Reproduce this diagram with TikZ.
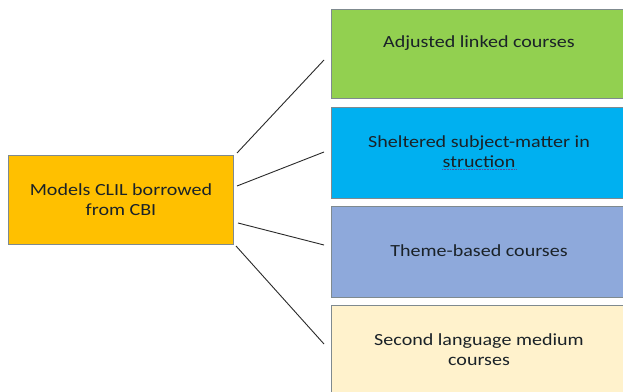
\documentclass[tikz,border=0pt]{standalone}
\usepackage{fontspec}
\setmainfont{Carlito}[FakeStretch=1.18]
\definecolor{cgreen}{HTML}{92D050}
\definecolor{cblue}{HTML}{00B0F0}
\definecolor{ctheme}{HTML}{8EA9DB}
\definecolor{ccream}{HTML}{FFF2CC}
\definecolor{corange}{HTML}{FFC000}
\definecolor{cedge}{HTML}{7F8A8F}
\definecolor{ctext}{HTML}{1A2228}
\definecolor{cline}{HTML}{2A2A2A}
\definecolor{cul}{HTML}{5A4A9A}
\begin{document}
\begin{tikzpicture}[x=1pt,y=1pt,
  box/.style={draw=cedge,line width=0.6pt,rectangle,inner sep=0pt},
  txt/.style={align=center,text=ctext,font=\fontsize{17}{20}\selectfont},
  conn/.style={draw=cline,line width=0.9pt}]
\useasboundingbox (0,0) rectangle (623,391);
\clip (0,0) rectangle (623,391);
\fill[white] (0,0) rectangle (623,391);
% boxes (y flipped: y = 391 - py)
\node[box,fill=corange,minimum width=225pt,minimum height=89pt] (L) at (121,191.5) {};
\node[box,fill=cgreen,minimum width=300pt,minimum height=89pt] (R1) at (481,337.5) {};
\node[box,fill=cblue,minimum width=300pt,minimum height=91pt] (R2) at (481,238.5) {};
\node[box,fill=ctheme,minimum width=300pt,minimum height=91pt] (R3) at (481,139.5) {};
\node[box,fill=ccream,minimum width=300pt,minimum height=92pt] (R4) at (481,40) {};
% texts
\node[txt] (tL) at (121,191.5) {Models CLIL borrowed\\from CBI};
\node[txt] (t1) at (479,348) {Adjusted linked courses};
\node[txt] (t2) at (479,239) {Sheltered subject-matter in\\struction};
\node[txt] (t3) at (479,140) {Theme-based courses};
\node[txt] (t4) at (479,41) {Second language medium\\courses};
\draw[cul,line width=0.6pt,dash pattern=on 1pt off 0.6pt] (442,222) -- (517,222);
% connector end points
\coordinate (a1) at (237,238);
\coordinate (b1) at (324,331);
\coordinate (a2) at (237,205);
\coordinate (b2) at (324,239);
\coordinate (a3) at (238,168);
\coordinate (b3) at (324,146);
\coordinate (a4) at (236,145);
\coordinate (b4) at (324,47);
\draw[conn] (a1) -- (b1);
\draw[conn] (a2) -- (b2);
\draw[conn] (a3) -- (b3);
\draw[conn] (a4) -- (b4);
\end{tikzpicture}
\end{document}
